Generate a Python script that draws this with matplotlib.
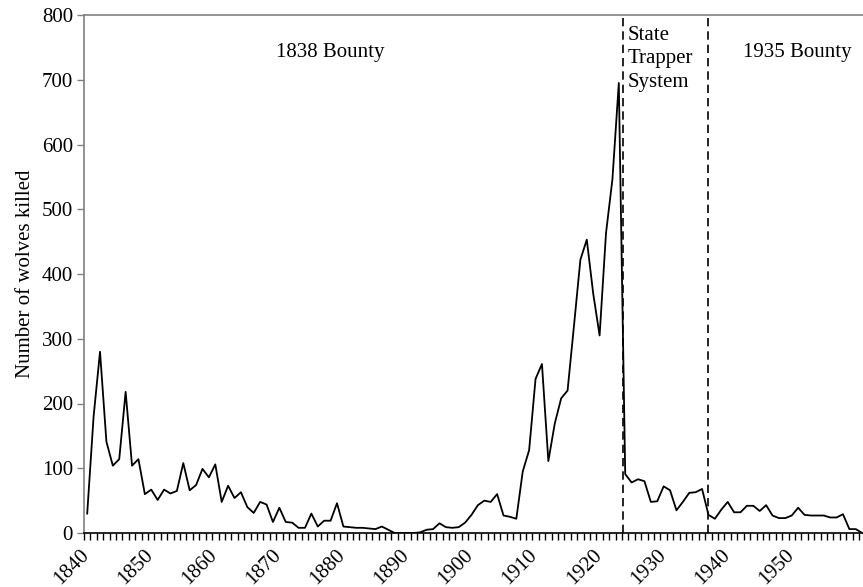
import matplotlib
matplotlib.use("Agg")
import matplotlib.pyplot as plt
import matplotlib.transforms as mtransforms
from matplotlib.ticker import FixedLocator

# wolves killed per year
years = list(range(1840, 1962))
wolves_killed = [
    30, 180, 280, 141, 104, 114, 218, 104, 114, 60,      # 1840s
    67, 51, 67, 61, 65, 108, 66, 74, 99, 86,             # 1850s
    106, 48, 73, 54, 63, 40, 31, 48, 44, 17,             # 1860s
    39, 17, 16, 8, 8, 30, 10, 19, 19, 46,                # 1870s
    10, 9, 8, 8, 7, 6, 10, 5, 0, 0,                      # 1880s
    0, 0, 1, 5, 6, 15, 9, 8, 9, 16,                      # 1890s
    28, 43, 50, 48, 60, 27, 25, 22, 95, 128,             # 1900s
    238, 261, 111, 169, 208, 220, 320, 422, 453, 370,    # 1910s
    305, 463, 546, 695, 91, 78, 83, 80, 48, 49,          # 1920s
    72, 66, 35, 48, 62, 63, 68, 28, 22, 36,              # 1930s
    48, 32, 32, 42, 42, 34, 43, 27, 23, 23,              # 1940s
    27, 39, 28, 27, 27, 27, 24, 24, 29, 6,               # 1950s
    6, 0,                                                # 1960-61
]
assert len(years) == len(wolves_killed)

phase_breaks = [1923.7, 1937.0]
phase_labels = ["1838 Bounty", "State\nTrapper\nSystem", "1935 Bounty"]
year_labels = list(range(1840, 1960, 10))
y_ticks = list(range(0, 900, 100))

plt.rcParams["font.family"] = ["Liberation Serif", "DejaVu Serif"]
plt.rcParams["font.size"] = 15

fig = plt.figure(figsize=(8.63, 5.87), dpi=100)
ax = fig.add_axes([84 / 863, 54 / 587, 781.4 / 863, 518 / 587])

ax.plot(years, wolves_killed, color="black", lw=1.3)
for xb in phase_breaks:
    ax.plot([xb, xb], [0, 800], color="black", lw=1.2, dashes=(5, 3))

ax.text(1878, 742, phase_labels[0], ha="center", va="center")
ax.text(1924.4, 783, phase_labels[1], ha="left", va="top", linespacing=1.32)
ax.text(1950.8, 742, phase_labels[2], ha="center", va="center")

ax.set_xlim(1839.5, 1961.5)
ax.set_ylim(0, 800)
ax.set_ylabel("Number of wolves killed", labelpad=5)

# year ticks sit between categories, labels on the decades
ax.xaxis.set_major_locator(FixedLocator(year_labels))
ax.xaxis.set_minor_locator(FixedLocator([y - 0.5 for y in years] + [years[-1] + 0.5]))
ax.tick_params(axis="x", which="major", length=0, pad=9)
ax.tick_params(axis="x", which="minor", length=5, width=1, direction="out")
ax.set_xticklabels([str(y) for y in year_labels], rotation=45, ha="right", va="top")
shift = mtransforms.ScaledTranslation(6 / 100, 0, fig.dpi_scale_trans)
for lbl in ax.get_xticklabels():
    lbl.set_transform(lbl.get_transform() + shift)

ax.set_yticks(y_ticks)
ax.tick_params(axis="y", length=5, width=1, color="#808080", pad=3)

for side in ("left", "top"):
    ax.spines[side].set_color("#808080")
    ax.spines[side].set_linewidth(1.2)
ax.spines["bottom"].set_linewidth(1.2)
ax.spines["right"].set_visible(False)

fig.savefig("out.png", dpi=100)
